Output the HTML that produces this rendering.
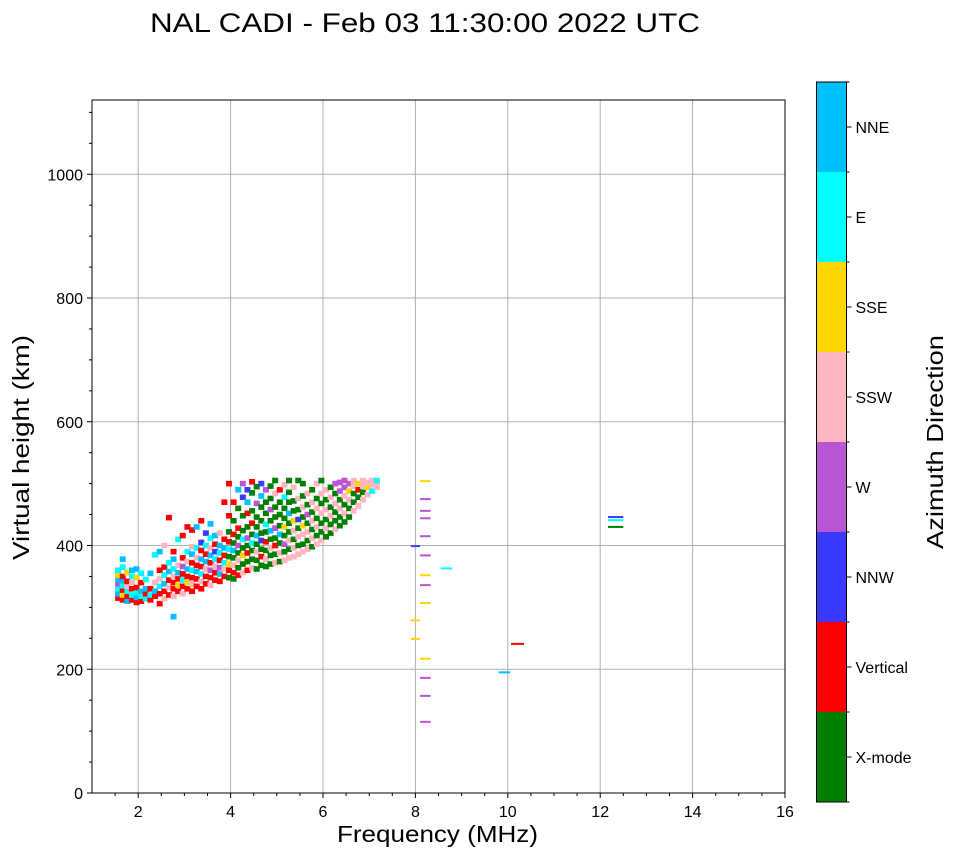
<!DOCTYPE html>
<html><head><meta charset="utf-8">
<style>
html,body{margin:0;padding:0;background:#fff;}
svg text{font-family:"Liberation Sans","DejaVu Sans",sans-serif;}
</style></head>
<body>
<svg id="chart" width="958" height="857" viewBox="0 0 958 857" xmlns="http://www.w3.org/2000/svg">
<rect x="0" y="0" width="958" height="857" fill="#fff"/>
<text x="150" y="32" font-size="27" textLength="550" lengthAdjust="spacingAndGlyphs">NAL CADI - Feb 03 11:30:00 2022 UTC</text>
<g id="grid"></g>
<g id="marks"></g>
<rect x="92" y="100" width="693" height="693" fill="none" stroke="#000" stroke-width="1"/>
<g id="axes"></g>
<text x="337" y="842" font-size="23" textLength="201" lengthAdjust="spacingAndGlyphs">Frequency (MHz)</text>
<text x="29" y="560" font-size="23" textLength="225" lengthAdjust="spacingAndGlyphs" transform="rotate(-90 29 560)">Virtual height (km)</text>
<g id="cbar"></g>
<text x="943" y="549" font-size="23" textLength="214" lengthAdjust="spacingAndGlyphs" transform="rotate(-90 943 549)">Azimuth Direction</text>
</svg>
<script>
const dirLabels = ["X-mode","Vertical","NNW","W","SSW","SSE","E","NNE"];
const dirColors = ["#008000","#ff0000","#3a3aff","#ba55d3","#ffb6c1","#ffd700","#00ffff","#00bfff"];
const xTicks = [2,4,6,8,10,12,14,16];
const yTicks = [0,200,400,600,800,1000];
// isolated echoes: freq start, freq end, height, direction index
const isoF0 = [8.1,8.1,8.1,8.1,8.1,7.9,8.1,8.55,8.1,8.1,8.1,7.9,7.9,8.1,8.1,8.1,8.1,10.07,9.8,12.17,12.17,12.17];
const isoF1 = [8.33,8.33,8.33,8.33,8.33,8.1,8.33,8.8,8.33,8.33,8.33,8.1,8.1,8.33,8.33,8.33,8.33,10.35,10.05,12.5,12.5,12.5];
const isoH = [504,475,456,444,415,399,384,363,352,336,307,279,249,217,186,157,115,241,195,446,441,430];
const isoDir = [5,3,3,3,3,2,3,6,5,3,5,5,5,5,3,3,3,1,7,2,6,0];
// main echo cloud: column frequency, then [height, direction] pairs
const cloudFreq = [1.5,1.6,1.7,1.8,1.9,2.0,2.1,2.2,2.3,2.4,2.5,2.6,2.7,2.8,2.9,3.0,3.1,3.2,3.3,3.4,3.5,3.6,3.7,3.8,3.9,4.0,4.1,4.2,4.3,4.4,4.5,4.6,4.7,4.8,4.9,5.0,5.1,5.2,5.3,5.4,5.5,5.6,5.7,5.8,5.9,6.0,6.1,6.2,6.3,6.4,6.5,6.6,6.7,6.8,6.9,7.0,7.1];
const cloudCols = [
"315 1,322 7,330 6,338 3,345 7,352 5,360 6",
"312 1,320 5,328 1,335 6,343 7,350 1,365 6,378 7",
"310 7,318 1,326 6,334 4,342 1,356 5",
"312 1,320 6,330 1,340 4,350 6,360 7",
"308 1,316 7,324 6,332 1,348 5,362 7",
"310 1,318 6,326 7,340 1,355 6",
"314 6,322 1,330 7,345 6",
"312 1,320 6,330 1,355 7",
"318 1,326 7,340 4,385 6",
"306 1,322 1,334 6,346 4,360 1,390 7",
"314 4,326 1,338 7,352 6,365 1,400 4",
"320 1,332 4,344 1,358 7,372 6,445 1",
"285 7,318 4,330 1,340 1,350 4,362 6,378 7,390 1",
"326 1,336 5,346 1,356 7,368 4,410 6",
"322 4,334 1,344 6,354 1,366 3,380 1,416 1",
"330 1,340 5,350 1,362 7,374 4,390 6,430 1",
"326 1,338 4,348 1,360 6,372 1,386 7,398 4,425 1",
"334 1,346 1,358 7,368 1,380 4,396 6,430 7",
"330 1,342 4,354 6,366 1,378 7,392 1,405 2,440 1",
"338 1,350 1,362 4,374 7,386 1,400 6,420 2",
"336 4,348 1,360 3,372 1,384 7,396 4,412 6,435 7",
"344 1,356 1,366 4,378 6,390 2,402 1,416 7",
"342 1,354 7,364 3,376 1,388 6,400 7,420 4",
"350 1,362 4,372 6,384 1,396 7,410 1,470 1",
"348 0,360 1,370 5,382 0,394 6,406 1,422 0,448 1,500 1",
"346 0,356 1,368 4,380 0,392 7,404 0,418 1,440 0,470 1",
"352 1,364 0,376 4,388 0,400 3,414 0,428 1,460 0,490 7",
"356 4,370 0,384 5,396 0,410 6,424 0,448 0,478 2,500 3",
"360 1,374 0,388 1,400 0,412 3,430 0,452 1,470 7,490 2",
"364 4,378 0,392 0,404 6,418 0,436 1,456 0,485 0,503 1",
"362 0,376 0,390 4,402 0,416 7,430 0,446 0,468 3,495 0",
"368 0,382 1,394 0,408 2,420 0,440 0,462 0,480 7,500 2",
"366 0,378 4,392 0,406 1,422 0,434 6,452 0,470 0,490 3",
"370 0,384 0,396 4,410 0,424 7,440 0,458 3,476 0,496 0",
"372 4,386 0,400 1,412 0,428 3,446 0,462 0,484 4,505 0",
"374 0,388 4,404 0,418 7,432 0,450 0,470 0,490 1",
"376 4,390 0,402 3,416 0,430 5,444 0,460 0,478 6,498 4",
"380 4,394 0,408 4,422 0,436 0,452 7,470 0,486 0,505 0",
"382 4,396 4,410 0,424 4,440 5,456 0,472 0,494 4",
"386 4,400 0,414 4,428 0,442 2,458 0,476 4,505 0",
"390 4,402 0,418 4,432 5,446 0,462 4,480 0,500 0",
"394 4,408 0,422 4,436 0,450 3,466 0,484 4",
"398 0,412 4,426 0,440 4,454 0,470 4,490 0",
"402 4,416 0,430 4,444 0,460 4,476 0,500 4",
"408 4,422 0,436 0,452 4,468 0,484 4,505 0",
"414 0,428 4,442 0,458 4,474 0,490 4",
"420 0,434 0,448 4,462 0,478 4,494 0",
"426 4,440 0,454 0,468 4,484 0,500 3",
"432 0,446 0,460 4,474 0,488 3,502 3",
"438 0,452 4,466 0,480 4,494 3,505 3",
"446 0,460 0,474 4,488 5,500 3",
"456 4,470 0,484 0,496 4,505 4",
"464 4,478 0,490 1,500 5",
"474 4,486 0,496 4,505 4",
"482 4,494 5,502 4",
"488 6,498 4,505 4",
"494 4,502 4,505 6"
];

const NS = "http://www.w3.org/2000/svg";
const X0 = 92, X1 = 785, Y0 = 793, Y1 = 100;
const xMin = 1, xMax = 16, yMin = 0, yMax = 1120;
function xs(f){ return X0 + (f - xMin) / (xMax - xMin) * (X1 - X0); }
function ys(h){ return Y0 - (h - yMin) / (yMax - yMin) * (Y0 - Y1); }
function mk(tag, attrs, parent){
  const e = document.createElementNS(NS, tag);
  for (const k in attrs) e.setAttribute(k, attrs[k]);
  parent.appendChild(e);
  return e;
}
const grid = document.getElementById('grid');
const axes = document.getElementById('axes');
const marks = document.getElementById('marks');
const cbar = document.getElementById('cbar');

xTicks.forEach(t => {
  const x = xs(t);
  if (t < xMax) {
    const g = mk('line', {x1:x, x2:x, y1:Y1, y2:Y0, stroke:'#b0b0b0', 'stroke-width':1}, grid);
    
    
  }
  const tk = mk('line', {x1:x, x2:x, y1:Y0, y2:Y0+5, stroke:'#000'}, axes);
  
  
  const lb = mk('text', {x:x, y:Y0+24, 'font-size':16, 'text-anchor':'middle'}, axes);
  lb.textContent = t;
  
  
});
for (let m = 1.5; m < xMax; m += 1) {
  const x = xs(m);
  const tk = mk('line', {x1:x, x2:x, y1:Y0, y2:Y0+3, stroke:'#000'}, axes);
  
  
}
for (let m = 3; m < xMax; m += 2) {
  const x = xs(m);
  const tk = mk('line', {x1:x, x2:x, y1:Y0, y2:Y0+3, stroke:'#000'}, axes);
  
  
}
yTicks.forEach(t => {
  const y = ys(t);
  if (t > 0) {
    const g = mk('line', {x1:X0, x2:X1, y1:y, y2:y, stroke:'#b0b0b0', 'stroke-width':1}, grid);
    
    
  }
  const tk = mk('line', {x1:X0-5, x2:X0, y1:y, y2:y, stroke:'#000'}, axes);
  
  
  const lb = mk('text', {x:X0-9, y:y+6, 'font-size':16, 'text-anchor':'end'}, axes);
  lb.textContent = t;
  
  
});
for (let m = 50; m < yMax; m += 50) {
  if (m % 200 === 0) continue;
  const y = ys(m);
  const tk = mk('line', {x1:X0-3, x2:X0, y1:y, y2:y, stroke:'#000'}, axes);
  
  
}

// cloud cells
const cellW = 0.13, cellH = 9;
cloudFreq.forEach((f, i) => {
  cloudCols[i].split(',').forEach(p => {
    const parts = p.trim().split(' ');
    const h = +parts[0], d = +parts[1];
    const r = mk('rect', {x:xs(f), y:ys(h+cellH/2), width:xs(f+cellW)-xs(f), height:ys(h-cellH/2)-ys(h+cellH/2), fill:dirColors[d]}, marks);
    
    
  });
});
// isolated echoes
isoH.forEach((h, i) => {
  const r = mk('rect', {x:xs(isoF0[i]), y:ys(h)-1, width:xs(isoF1[i])-xs(isoF0[i]), height:2, fill:dirColors[isoDir[i]]}, marks);
  
  
});

// colorbar
const CB_X = 816.5, CB_W = 30, CB_TOP = 82, CB_BOT = 802;
const segH = (CB_BOT - CB_TOP) / dirLabels.length;
dirLabels.forEach((lab, i) => {
  const yTop = CB_BOT - (i+1)*segH;
  const r = mk('rect', {x:CB_X, y:yTop, width:CB_W, height:segH, fill:dirColors[i]}, cbar);
  
  
  const yc = yTop + segH/2;
  const tk = mk('line', {x1:CB_X+CB_W, x2:CB_X+CB_W+5, y1:yc, y2:yc, stroke:'#000'}, cbar);
  
  
  const t = mk('text', {x:CB_X+CB_W+9, y:yc+6, 'font-size':16}, cbar);
  t.textContent = lab;
  
  
});
for (let i = 0; i <= dirLabels.length; i++) {
  const y = CB_TOP + i*segH;
  const tk = mk('line', {x1:CB_X+CB_W, x2:CB_X+CB_W+3, y1:y, y2:y, stroke:'#000'}, cbar);
  
  
}
const fr = mk('rect', {x:CB_X, y:CB_TOP, width:CB_W, height:CB_BOT-CB_TOP, fill:'none', stroke:'#000'}, cbar);


</script>
</body></html>
